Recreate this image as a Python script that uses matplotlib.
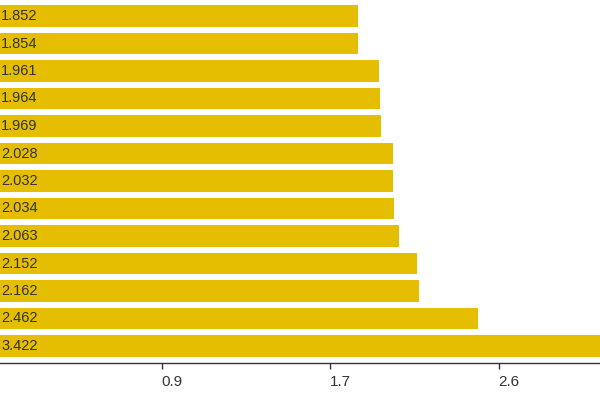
import matplotlib
matplotlib.use("Agg")
import matplotlib.pyplot as plt

values = [1.852, 1.854, 1.961, 1.964, 1.969, 2.028, 2.032, 2.034, 2.063, 2.152, 2.162, 2.462, 3.422]
labels = ["1.852", "1.854", "1.961", "1.964", "1.969", "2.028", "2.032", "2.034", "2.063", "2.152", "2.162", "2.462", "3.422"]
tick_vals = [3.422 / 4, 3.422 / 2, 3.422 * 3 / 4]
tick_labels = ["0.9", "1.7", "2.6"]

plt.rcParams['font.family'] = ['Liberation Sans', 'DejaVu Sans']

W, H = 600, 400
fig = plt.figure(figsize=(6, 4), dpi=100)
axis_px = 363
ax = fig.add_axes([0, (H - axis_px) / H, 1, axis_px / H])

color = "#E5BE01"
ypos = list(range(len(values)))
ax.barh(ypos, values, height=0.78, color=color, left=0)

scale = 197.0
off = 7
ax.set_xlim(off / scale, (600 + off) / scale)
pitch = 27.5
ax.set_ylim(12 + 17 / pitch, -16 / pitch)

for y, lab in zip(ypos, labels):
    ax.text(0.042, y, lab, va="center", ha="left", fontsize=10.5, color="#333333")

for s in ["top", "right", "left"]:
    ax.spines[s].set_visible(False)
ax.spines["bottom"].set_color("#333333")
ax.spines["bottom"].set_linewidth(1.0)
ax.set_yticks([])
ax.set_xticks(tick_vals)
ax.set_xticklabels(tick_labels, fontsize=11, color="#333333", ha="left")
ax.tick_params(axis="x", length=4, width=1, color="#333333", pad=5)

fig.savefig("out.png", dpi=100)
